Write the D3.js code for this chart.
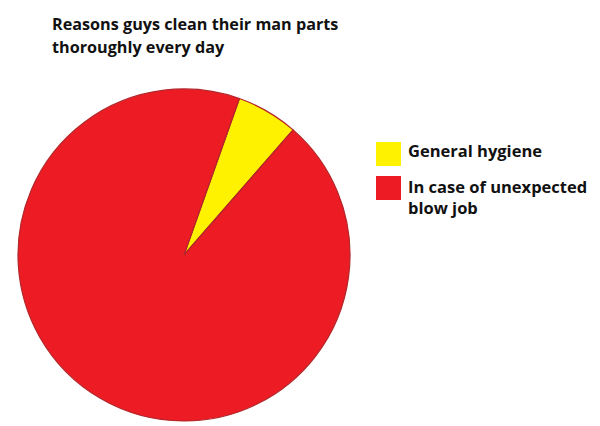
<!DOCTYPE html>
<html><head><meta charset="utf-8">
<script src="https://cdn.jsdelivr.net/npm/d3@7"></script>
<style>html,body{margin:0;padding:0;background:#fff;}svg{display:block;}</style>
</head><body>
<script>
const titleLines = ["Reasons guys clean their man parts", "thoroughly every day"];
const categories = ["General hygiene", "In case of unexpected blow job"];
const legendLines = [["General hygiene"], ["In case of unexpected", "blow job"]];
const values = [6, 94];
const colors = ["#fff200", "#ed1c24"];

const W = 600, H = 426;
const svg = d3.select("body").append("svg").attr("width", W).attr("height", H);
const font = "'Open Sans', sans-serif";

svg.append("g").selectAll("text").data(titleLines).join("text")
  .attr("x", 52).attr("y", (d, i) => 30 + i * 23)
  .attr("font-family", font).attr("font-weight", 700).attr("font-size", 16.2)
  .attr("fill", "#111").text(d => d);

const cx = 184, cy = 255, r = 166;
const start = 19.5 * Math.PI / 180;
const pie = d3.pie().sort(null).startAngle(start).endAngle(start + 2 * Math.PI);
const arc = d3.arc().innerRadius(0).outerRadius(r);
const color = d3.scaleOrdinal().domain(categories).range(colors);

svg.append("g").attr("transform", `translate(${cx},${cy})`)
  .selectAll("path").data(pie(values)).join("path")
  .attr("d", arc).attr("fill", (d, i) => color(categories[i]))
  .attr("stroke", "#b3262a").attr("stroke-width", 1.2).attr("stroke-linejoin", "round");

const lg = svg.append("g");
const rows = [{y: 142}, {y: 176}];
categories.forEach((c, i) => {
  lg.append("rect").attr("x", 376).attr("y", rows[i].y).attr("width", 25).attr("height", 24)
    .attr("fill", color(c));
  legendLines[i].forEach((t, j) => {
    lg.append("text").attr("x", 408).attr("y", rows[i].y + 15 + (i === 1 ? 2 : 0) + j * 21)
      .attr("font-family", font).attr("font-weight", 700).attr("font-size", 16.5)
      .attr("fill", "#111").text(t);
  });
});
</script>
</body></html>
